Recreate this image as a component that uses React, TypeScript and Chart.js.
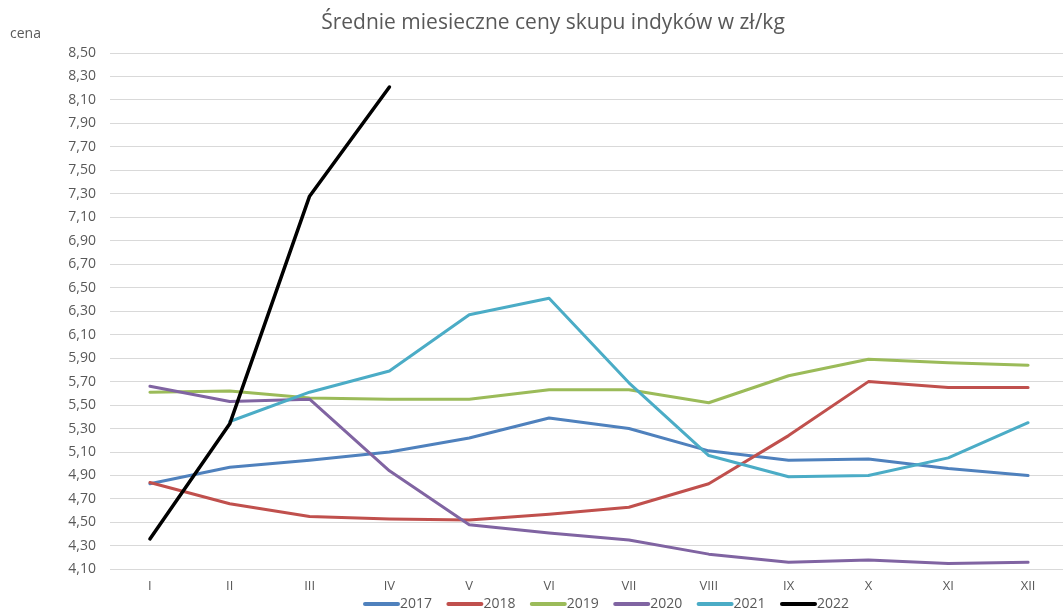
import React, { useEffect, useRef } from "react";
import { Chart, registerables } from "chart.js";

Chart.register(...registerables);

const TITLE = "Średnie miesieczne ceny skupu indyków w zł/kg";
const Y_TITLE = "cena";
const MONTHS = ["I", "II", "III", "IV", "V", "VI", "VII", "VIII", "IX", "X", "XI", "XII"];
const Y_MIN = 4.1;
const Y_MAX = 8.5;
const Y_STEP = 0.2;

const SERIES_LABELS = ["2017", "2018", "2019", "2020", "2021", "2022"];
const SERIES_COLORS = ["#4F81BD", "#C0504D", "#9BBB59", "#8064A2", "#4BACC6", "#000000"];

const Y2017 = [4.83, 4.97, 5.03, 5.10, 5.22, 5.39, 5.30, 5.11, 5.03, 5.04, 4.96, 4.90];
const Y2018 = [4.84, 4.66, 4.55, 4.53, 4.52, 4.57, 4.63, 4.83, 5.24, 5.70, 5.65, 5.65];
const Y2019 = [5.61, 5.62, 5.56, 5.55, 5.55, 5.63, 5.63, 5.52, 5.75, 5.89, 5.86, 5.84];
const Y2020 = [5.66, 5.53, 5.55, 4.94, 4.48, 4.41, 4.35, 4.23, 4.16, 4.18, 4.15, 4.16];
const Y2021 = [null, 5.36, 5.61, 5.79, 6.27, 6.41, 5.69, 5.07, 4.89, 4.90, 5.05, 5.35];
const Y2022 = [4.36, 5.34, 7.28, 8.21, null, null, null, null, null, null, null, null];

const SERIES_VALUES = [Y2017, Y2018, Y2019, Y2020, Y2021, Y2022];

const FONT = "'Open Sans', 'Liberation Sans', sans-serif";
const TEXT_COLOR = "#595959";
const GRID_COLOR = "#d9d9d9";

const overlayPlugin = {
  id: "overlay",
  afterDraw(chart: any) {
    const ctx = chart.ctx;
    ctx.save();
    // title
    ctx.fillStyle = TEXT_COLOR;
    ctx.font = `21px ${FONT}`;
    ctx.textAlign = "center";
    ctx.textBaseline = "middle";
    ctx.fillText(TITLE, 553, 23);
    // y-axis title
    ctx.font = `14px ${FONT}`;
    ctx.textAlign = "left";
    ctx.fillText(Y_TITLE, 10, 34);
    // legend
    const startX = 363;
    const pitch = 83.4;
    const y = 604;
    ctx.font = `14px ${FONT}`;
    chart.data.datasets.forEach((ds: any, i: number) => {
      const x = startX + i * pitch;
      ctx.strokeStyle = ds.borderColor;
      ctx.lineWidth = 4;
      ctx.lineCap = "round";
      ctx.beginPath();
      ctx.moveTo(x + 2, y);
      ctx.lineTo(x + 35, y);
      ctx.stroke();
      ctx.fillStyle = TEXT_COLOR;
      ctx.textAlign = "left";
      ctx.textBaseline = "middle";
      ctx.fillText(ds.label, x + 37, y);
    });
    ctx.restore();
  },
};

export default function App() {
  const canvasRef = useRef<HTMLCanvasElement | null>(null);

  useEffect(() => {
    if (!canvasRef.current) return;
    const chart = new Chart(canvasRef.current, {
      type: "line",
      data: {
        labels: MONTHS,
        datasets: SERIES_LABELS.map((label, i) => ({
          label,
          data: SERIES_VALUES[i],
          borderColor: SERIES_COLORS[i],
          backgroundColor: SERIES_COLORS[i],
          borderWidth: i === 5 ? 3.5 : 3,
          pointRadius: 0,
          pointHoverRadius: 0,
          tension: 0,
          spanGaps: false,
          borderCapStyle: "round",
          borderJoinStyle: "round",
          order: SERIES_LABELS.length - i,
        })),
      },
      options: {
        animation: false,
        responsive: false,
        maintainAspectRatio: false,
        layout: { padding: { top: 53, bottom: 5, left: 0, right: 2 } },
        plugins: {
          legend: { display: false },
          title: { display: false },
          tooltip: { enabled: false },
        },
        scales: {
          x: {
            offset: true,
            grid: { display: false, drawTicks: false },
            border: { display: true, color: GRID_COLOR, width: 1 },
            ticks: {
              color: TEXT_COLOR,
              font: { family: FONT, size: 13 },
              padding: 9,
              maxRotation: 0,
              autoSkip: false,
            },
          },
          y: {
            min: Y_MIN,
            max: Y_MAX,
            grid: { color: GRID_COLOR, lineWidth: 1, drawTicks: false },
            border: { display: false },
            afterFit: (scale: any) => {
              scale.width = 110;
            },
            ticks: {
              stepSize: Y_STEP,
              color: TEXT_COLOR,
              font: { family: FONT, size: 14 },
              padding: 14,
              callback: (v: any) => Number(v).toFixed(2).replace(".", ","),
            },
          },
        },
      },
      plugins: [overlayPlugin],
    });
    return () => chart.destroy();
  }, []);

  return (
    <div
      style={{
        position: "absolute",
        left: 0,
        top: 0,
        width: 1063,
        height: 608,
        overflow: "hidden",
        background: "#ffffff",
      }}
    >
      <canvas ref={canvasRef} width={1070} height={608} style={{ display: "block" }} />
    </div>
  );
}
